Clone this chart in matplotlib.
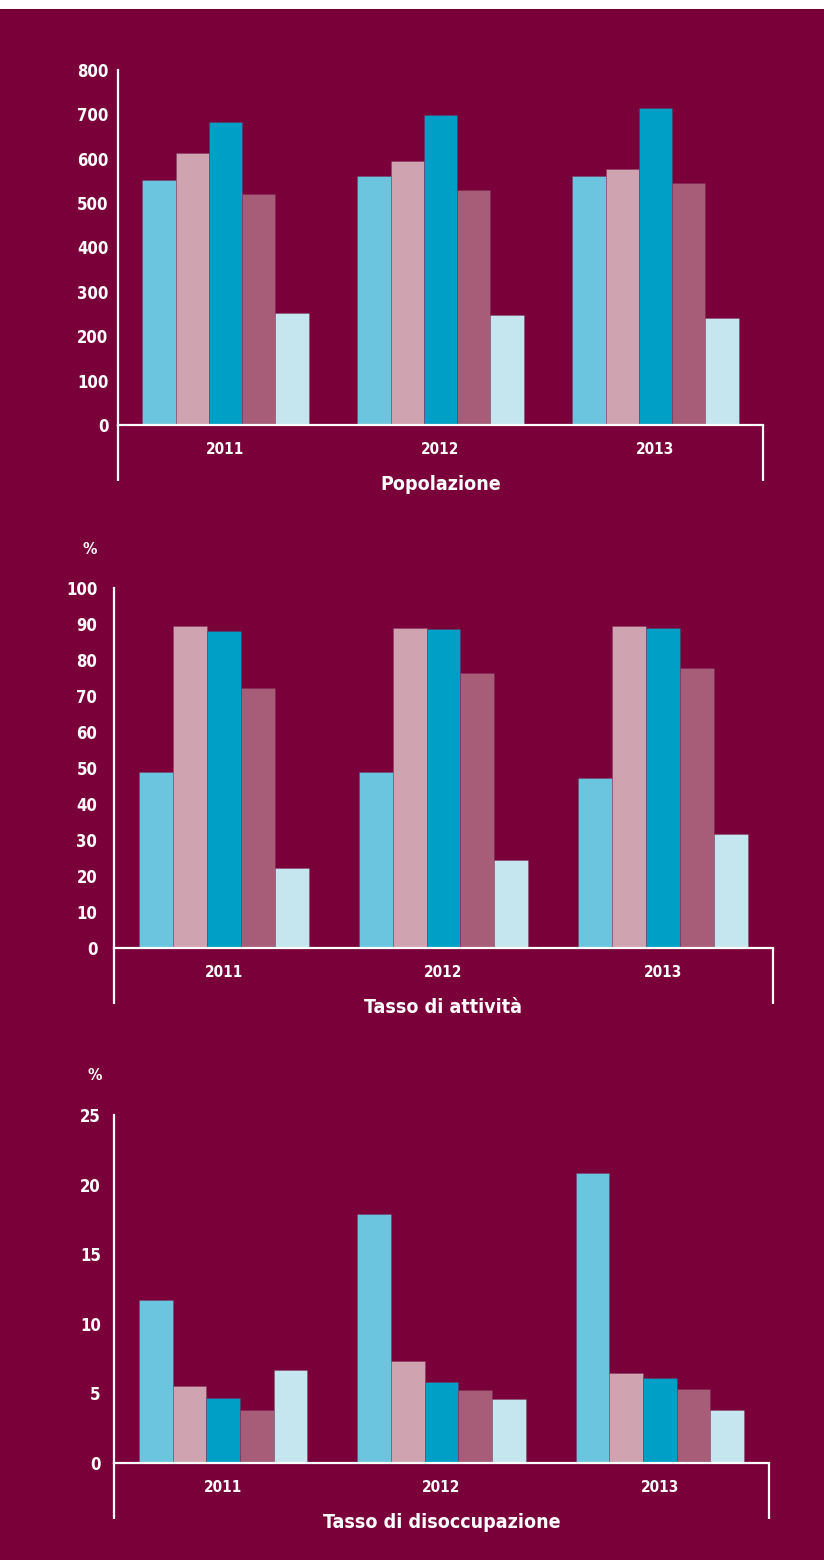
import matplotlib
matplotlib.use("Agg")
import matplotlib.pyplot as plt
from matplotlib.patches import Rectangle

# data
anni = ["2011", "2012", "2013"]
popolazione = [
    [552, 560, 560],
    [612, 595, 577],
    [682, 699, 714],
    [521, 529, 545],
    [252, 248, 242],
]
tasso_attivita = [
    [48.9, 48.9, 47.1],
    [89.4, 88.9, 89.4],
    [88.1, 88.5, 88.9],
    [72.1, 76.5, 77.8],
    [22.2, 24.4, 31.7],
]
tasso_disoccupazione = [
    [11.7, 17.9, 20.8],
    [5.5, 7.35, 6.5],
    [4.7, 5.8, 6.1],
    [3.8, 5.25, 5.35],
    [6.7, 4.6, 3.8],
]
titoli = ["Popolazione", "Tasso di attività", "Tasso di disoccupazione"]

colori = ["#6cc5de", "#d0a3b0", "#009fc6", "#a75d77", "#c5e5ef"]
sfondo = "#7a0039"

plt.rcParams["font.family"] = ["DejaVu Sans"]
plt.rcParams["font.stretch"] = "condensed"
plt.rcParams["font.weight"] = "bold"

W, H = 824, 1560
fig = plt.figure(figsize=(W / 100, H / 100), dpi=100, facecolor="white")
fig.patches.append(Rectangle((0, 0), 1, 1 - 9 / H, transform=fig.transFigure,
                             facecolor=sfondo, edgecolor="none", zorder=-10))


def box(left, right, top, bottom):
    return [left / W, 1 - bottom / H, (right - left) / W, (bottom - top) / H]


pannelli = [
    dict(rect=box(118, 763, 70, 425), dati=popolazione, ymax=800, step=100,
         pad=7, perc=None),
    dict(rect=box(114, 773, 588, 948), dati=tasso_attivita, ymax=100, step=10,
         pad=12, perc=(-24, 38)),
    dict(rect=box(114, 769, 1115, 1463), dati=tasso_disoccupazione, ymax=25,
         step=5, pad=9.5, perc=(-19, 40)),
]

larg = 0.1545
for p, titolo in zip(pannelli, titoli):
    ax = fig.add_axes(p["rect"])
    ax.set_facecolor(sfondo)
    ax.patch.set_alpha(0)
    h_px = p["rect"][3] * H
    for i, serie in enumerate(p["dati"]):
        xs = [k + (i - 2) * larg for k in range(len(anni))]
        ax.bar(xs, serie, width=larg, color=colori[i],
               edgecolor=(0.45, 0.15, 0.32, 0.3), linewidth=0.7, zorder=2)
    ax.set_xlim(-0.5, len(anni) - 0.5)
    ax.set_ylim(0, p["ymax"])
    ax.set_yticks(range(0, p["ymax"] + 1, p["step"]))
    ax.set_xticks(range(len(anni)))
    ax.set_xticklabels(anni)
    ax.tick_params(axis="y", length=0, pad=p["pad"], labelsize=12,
                   labelcolor="white")
    ax.tick_params(axis="x", length=0, pad=12, labelsize=11,
                   labelcolor="white")
    for s in ["top", "right"]:
        ax.spines[s].set_visible(False)
    for s in ["left", "bottom"]:
        ax.spines[s].set_color("white")
        ax.spines[s].set_linewidth(1.6)
    # bracket under the category axis
    drop = 56 / h_px
    for xv in (0, 1):
        ax.plot([xv, xv], [0, -drop], transform=ax.transAxes, color="white",
                lw=1.6, clip_on=False, solid_capstyle="butt")
    ax.annotate(titolo, xy=(0.5, 0), xycoords="axes fraction",
                xytext=(0, -42.5), textcoords="offset points",
                ha="center", va="center", color="white", fontsize=14)
    if p["perc"] is not None:
        dx, dy = p["perc"]
        ax.annotate("%", xy=(0, 1), xycoords="axes fraction",
                    xytext=(dx * 0.72, dy * 0.72), textcoords="offset points",
                    ha="center", va="center", color="white", fontsize=11.5)

fig.savefig("out.png", dpi=100, facecolor=fig.get_facecolor())
